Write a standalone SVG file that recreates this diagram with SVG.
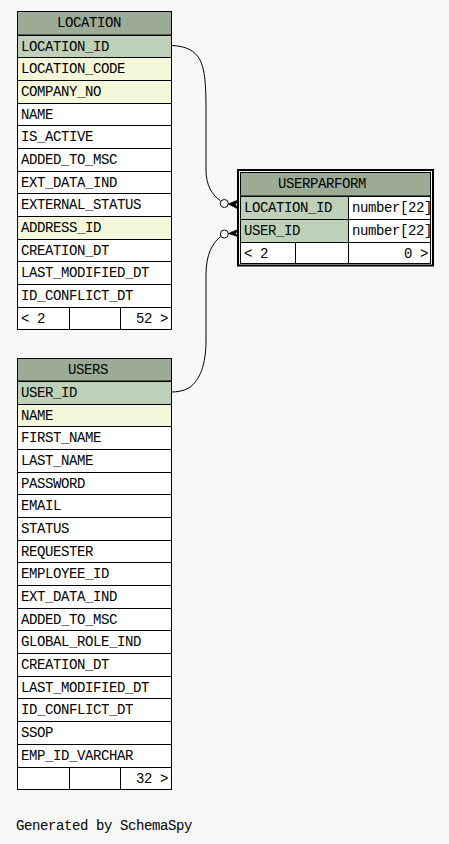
<svg xmlns="http://www.w3.org/2000/svg" width="449" height="844" viewBox="0 0 449 844">
<style>
text{font-family:"Liberation Mono","DejaVu Sans Mono",monospace;font-size:14px;letter-spacing:-0.4px;fill:#000}
.h{fill:#9bab96;stroke:#000;stroke-width:1}
.pk{fill:#bed1b8;stroke:#000;stroke-width:1}
.ix{fill:#f4f7da;stroke:#000;stroke-width:1}
.w{fill:#fff;stroke:#000;stroke-width:1}
.ln{stroke:#000;stroke-width:1;fill:none}
.e{text-anchor:end}
.c{fill:none;stroke:#000;stroke-width:1}
</style>
<rect width="449" height="844" fill="#f7f7f7"/>
<g id="LOCATION">
<rect class="h" x="17.5" y="11.5" width="154" height="23.5"/>
<text x="57" y="27">LOCATION</text>
<rect class="pk" x="17.5" y="35.5" width="154" height="22"/><text x="21" y="50.5">LOCATION_ID</text>
<rect class="ix" x="17.5" y="57.5" width="154" height="23"/><text x="21" y="72.5">LOCATION_CODE</text>
<rect class="ix" x="17.5" y="80.5" width="154" height="23"/><text x="21" y="95.5">COMPANY_NO</text>
<rect class="w" x="17.5" y="103.5" width="154" height="22"/><text x="21" y="118.5">NAME</text>
<rect class="w" x="17.5" y="125.5" width="154" height="23"/><text x="21" y="140.5">IS_ACTIVE</text>
<rect class="w" x="17.5" y="148.5" width="154" height="23"/><text x="21" y="163.5">ADDED_TO_MSC</text>
<rect class="w" x="17.5" y="171.5" width="154" height="22"/><text x="21" y="186.5">EXT_DATA_IND</text>
<rect class="w" x="17.5" y="193.5" width="154" height="23"/><text x="21" y="208.5">EXTERNAL_STATUS</text>
<rect class="ix" x="17.5" y="216.5" width="154" height="23"/><text x="21" y="231.5">ADDRESS_ID</text>
<rect class="w" x="17.5" y="239.5" width="154" height="22"/><text x="21" y="254.5">CREATION_DT</text>
<rect class="w" x="17.5" y="261.5" width="154" height="23"/><text x="21" y="276.5">LAST_MODIFIED_DT</text>
<rect class="w" x="17.5" y="284.5" width="154" height="23"/><text x="21" y="299.5">ID_CONFLICT_DT</text>
<rect class="w" x="17.5" y="307.5" width="154" height="22"/>
<path class="ln" d="M69.5,307.5V329.5M120.5,307.5V329.5"/>
<text x="21" y="322.5">&lt; 2</text><text class="e" x="168" y="322.5">52 &gt;</text>
</g>
<g id="USERS">
<rect class="h" x="17.5" y="358.5" width="154" height="22.5"/>
<text x="68" y="373.5">USERS</text>
<rect class="pk" x="17.5" y="381.5" width="154" height="23"/><text x="21" y="396.5">USER_ID</text>
<rect class="ix" x="17.5" y="404.5" width="154" height="22"/><text x="21" y="419.5">NAME</text>
<rect class="w" x="17.5" y="426.5" width="154" height="23"/><text x="21" y="441.5">FIRST_NAME</text>
<rect class="w" x="17.5" y="449.5" width="154" height="23"/><text x="21" y="464.5">LAST_NAME</text>
<rect class="w" x="17.5" y="472.5" width="154" height="22"/><text x="21" y="487.5">PASSWORD</text>
<rect class="w" x="17.5" y="494.5" width="154" height="23"/><text x="21" y="509.5">EMAIL</text>
<rect class="w" x="17.5" y="517.5" width="154" height="23"/><text x="21" y="532.5">STATUS</text>
<rect class="w" x="17.5" y="540.5" width="154" height="22"/><text x="21" y="555.5">REQUESTER</text>
<rect class="w" x="17.5" y="562.5" width="154" height="23"/><text x="21" y="577.5">EMPLOYEE_ID</text>
<rect class="w" x="17.5" y="585.5" width="154" height="23"/><text x="21" y="600.5">EXT_DATA_IND</text>
<rect class="w" x="17.5" y="608.5" width="154" height="22"/><text x="21" y="623.5">ADDED_TO_MSC</text>
<rect class="w" x="17.5" y="630.5" width="154" height="23"/><text x="21" y="645.5">GLOBAL_ROLE_IND</text>
<rect class="w" x="17.5" y="653.5" width="154" height="23"/><text x="21" y="668.5">CREATION_DT</text>
<rect class="w" x="17.5" y="676.5" width="154" height="22"/><text x="21" y="691.5">LAST_MODIFIED_DT</text>
<rect class="w" x="17.5" y="698.5" width="154" height="23"/><text x="21" y="713.5">ID_CONFLICT_DT</text>
<rect class="w" x="17.5" y="721.5" width="154" height="23"/><text x="21" y="736.5">SSOP</text>
<rect class="w" x="17.5" y="744.5" width="154" height="23"/><text x="21" y="759.5">EMP_ID_VARCHAR</text>
<rect class="w" x="17.5" y="767.5" width="154" height="22"/>
<path class="ln" d="M69.5,767.5V789.5M120.5,767.5V789.5"/>
<text class="e" x="168" y="782.5">32 &gt;</text>
</g>
<g id="USERPARFORM">
<rect x="238" y="170" width="195" height="95.5" fill="none" stroke="#000" stroke-width="2"/>
<rect class="h" x="240.5" y="172.5" width="190" height="23.5"/>
<text x="278" y="188">USERPARFORM</text>
<rect class="pk" x="240.5" y="196.5" width="108" height="23"/><text x="244" y="211.5">LOCATION_ID</text>
<rect class="w" x="348.5" y="196.5" width="82" height="23"/><text x="352" y="211.5">number[22]</text>
<rect class="pk" x="240.5" y="219.5" width="108" height="23"/><text x="244" y="234.5">USER_ID</text>
<rect class="w" x="348.5" y="219.5" width="82" height="23"/><text x="352" y="234.5">number[22]</text>
<rect class="w" x="240.5" y="242.5" width="190" height="21"/>
<path class="ln" d="M295.5,242.5V263.5M348.5,242.5V263.5"/>
<text x="244" y="257.5">&lt; 2</text><text class="e" x="428" y="257.5">0 &gt;</text>
</g>
<g id="connectors">
<path class="c" d="M171.5,45.5C185,46 195,50 200,60C205,70 206,85 206,110L206,170C206,185 212,195 220.5,200.8"/>
<circle cx="224.3" cy="203.5" r="4" fill="#fff" stroke="#000" stroke-width="1"/>
<polygon points="228.5,204 238,200 235.5,204.5 238,209" fill="#000" stroke="#000" stroke-width="0.8"/>
<path class="c" d="M220.8,236.5C212,243 206,255 206,275L206,340C206,365 200,380 189,388C183,391 177,392 171.5,392"/>
<circle cx="224.3" cy="234" r="4" fill="#fff" stroke="#000" stroke-width="1"/>
<polygon points="228.5,233.5 238,229.5 235.5,233.5 238,236.5" fill="#000" stroke="#000" stroke-width="0.8"/>
</g>
<text x="16" y="830">Generated by SchemaSpy</text>
</svg>
